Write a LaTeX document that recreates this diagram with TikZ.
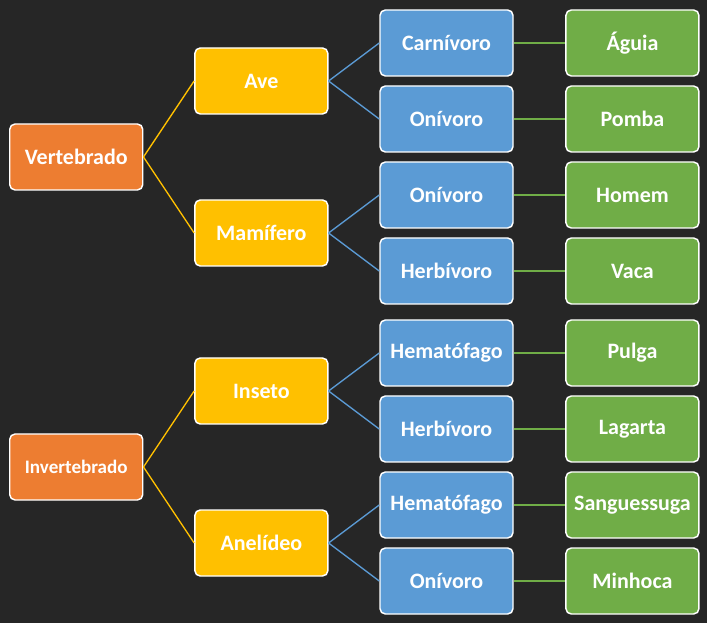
\documentclass[tikz,border=0pt]{standalone}
\usepackage{fontspec}
\setmainfont{Carlito}
\usepackage{tikz}
\usetikzlibrary{positioning, calc}
\definecolor{bgdark}{HTML}{262626}
\definecolor{classorange}{HTML}{ED7D31}
\definecolor{groupyellow}{HTML}{FFC000}
\definecolor{dietblue}{HTML}{5B9BD5}
\definecolor{animalgreen}{HTML}{70AD47}
\begin{document}
\begin{tikzpicture}
  [basicbox/.style={draw=white,line width=1.1pt,rounded corners=4pt,inner sep=0pt,minimum width=99.75pt,minimum height=49.5pt,text=white,font=\bfseries\fontsize{16.5}{18}\selectfont},
   classbox/.style={basicbox,fill=classorange},
   groupbox/.style={basicbox,fill=groupyellow},
   dietbox/.style={basicbox,fill=dietblue},
   animalbox/.style={basicbox,fill=animalgreen},
   link/.style={line width=1pt}]
  \fill [bgdark] (0,0) rectangle (530.25pt,-467.25pt);
  \node (carnivoro) at (334.875pt,-32.25pt) [dietbox] {Carnívoro};
  \node (onivoro1) [dietbox,below=6.4pt of carnivoro] {Onívoro};
  \node (onivoro2) [dietbox,below=6.4pt of onivoro1] {Onívoro};
  \node (herbivoro1) [dietbox,below=6.4pt of onivoro2] {Herbívoro};
  \node (hematofago1) [dietbox,below=10.9pt of herbivoro1] {Hematófago};
  \node (herbivoro2) [dietbox,below=6.4pt of hematofago1] {Herbívoro};
  \node (hematofago2) [dietbox,below=6.4pt of herbivoro2] {Hematófago};
  \node (onivoro3) [dietbox,below=6.4pt of hematofago2] {Onívoro};
  \node (aguia) [animalbox,right=38.6pt of carnivoro] {Águia};
  \node (pomba) [animalbox,right=38.6pt of onivoro1] {Pomba};
  \node (homem) [animalbox,right=38.6pt of onivoro2] {Homem};
  \node (vaca) [animalbox,right=38.6pt of herbivoro1] {Vaca};
  \node (pulga) [animalbox,right=38.6pt of hematofago1] {Pulga};
  \node (lagarta) [animalbox,right=38.6pt of herbivoro2] {Lagarta};
  \node (sanguessuga) [animalbox,right=38.6pt of hematofago2] {Sanguessuga};
  \node (minhoca) [animalbox,right=38.6pt of onivoro3] {Minhoca};
  % groups sit halfway between their two diets
  \coordinate (avemid) at ($(carnivoro.west)!0.5!(onivoro1.west)$);
  \coordinate (mamiferomid) at ($(onivoro2.west)!0.5!(herbivoro1.west)$);
  \coordinate (insetomid) at ($(hematofago1.west)!0.5!(herbivoro2.west)$);
  \coordinate (anelideomid) at ($(hematofago2.west)!0.5!(onivoro3.west)$);
  \node (ave) [groupbox,left=38pt of avemid] {Ave};
  \node (mamifero) [groupbox,left=38pt of mamiferomid] {Mamífero};
  \node (inseto) [groupbox,left=38pt of insetomid] {Inseto};
  \node (anelideo) [groupbox,left=38pt of anelideomid] {Anelídeo};
  \coordinate (vertmid) at ($(ave.west)!0.5!(mamifero.west)$);
  \coordinate (invertmid) at ($(inseto.west)!0.5!(anelideo.west)$);
  \node (vertebrado) [classbox,left=38pt of vertmid] {Vertebrado};
  \node (invertebrado) [classbox,left=38pt of invertmid,font=\bfseries\fontsize{14.3}{16}\selectfont] {Invertebrado};
  \draw [link,groupyellow] (vertebrado.east) -- (ave.west);
  \draw [link,groupyellow] (vertebrado.east) -- (mamifero.west);
  \draw [link,groupyellow] (invertebrado.east) -- (inseto.west);
  \draw [link,groupyellow] (invertebrado.east) -- (anelideo.west);
  \draw [link,dietblue] (ave.east) -- (carnivoro.west);
  \draw [link,dietblue] (ave.east) -- (onivoro1.west);
  \draw [link,dietblue] (mamifero.east) -- (onivoro2.west);
  \draw [link,dietblue] (mamifero.east) -- (herbivoro1.west);
  \draw [link,dietblue] (inseto.east) -- (hematofago1.west);
  \draw [link,dietblue] (inseto.east) -- (herbivoro2.west);
  \draw [link,dietblue] (anelideo.east) -- (hematofago2.west);
  \draw [link,dietblue] (anelideo.east) -- (onivoro3.west);
  \foreach \diet/\animal in {carnivoro/aguia,onivoro1/pomba,onivoro2/homem,herbivoro1/vaca,
      hematofago1/pulga,herbivoro2/lagarta,hematofago2/sanguessuga,onivoro3/minhoca}
    \draw [link,animalgreen] (\diet.east) -- (\animal.west);
\end{tikzpicture}
\end{document}
